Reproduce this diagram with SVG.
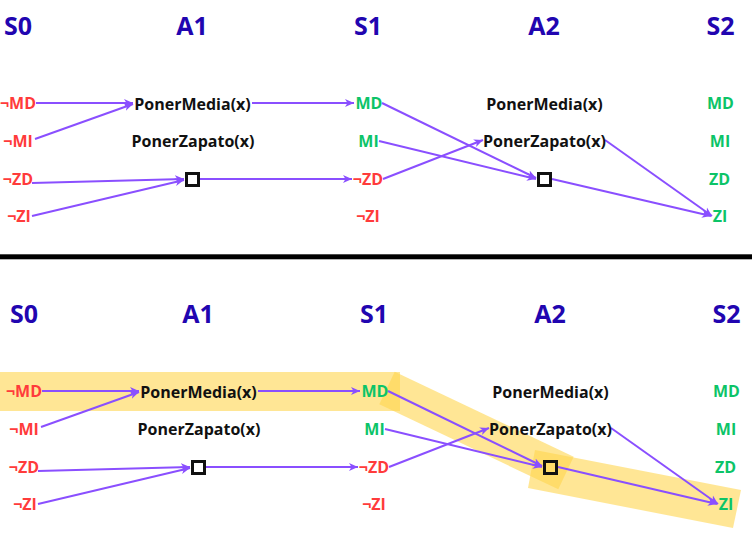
<svg xmlns="http://www.w3.org/2000/svg" width="752" height="546" viewBox="0 0 752 546">
<style>
text{font-family:"Open Sans","Liberation Sans",sans-serif;font-weight:bold;text-anchor:middle}
.h{font-size:25px;fill:#2105b0}
.neg{font-size:16px;fill:#ff3b3b}
.pos{font-size:16px;fill:#0cc468}
.act{font-size:16px;fill:#111111}
.box{fill:none;stroke:#111111;stroke-width:3}
.e{stroke:#8a4fff;stroke-width:2;fill:none;marker-end:url(#arr)}
.hl{fill:#ffd54f;opacity:0.6}
</style>
<defs>
<marker id="arr" markerUnits="userSpaceOnUse" markerWidth="10" markerHeight="10" refX="9" refY="4.5" orient="auto">
<path d="M0,0.5 L9,4.5 L0,8.5 L2.5,4.5 z" fill="#8a4fff"/>
</marker>
</defs>
<rect width="752" height="546" fill="#ffffff"/>
<g id="highlight">
<rect class="hl" x="0" y="372" width="400" height="39"/>
<polygon class="hl" points="394.7,371.7 573.7,456.7 558.3,489.3 379.3,404.3"/>
<polygon class="hl" points="535,450 741,490 733,528 528,488"/>
</g>
<rect id="separator" x="0" y="254.3" width="752" height="5" fill="#000000"/>
<g id="top">
<g id="connectors-top">
<line class="e" x1="36" y1="103" x2="133" y2="103"/>
<line class="e" x1="35" y1="139" x2="133" y2="104"/>
<line class="e" x1="32" y1="183" x2="184" y2="179"/>
<line class="e" x1="32" y1="216" x2="184" y2="180"/>
<line class="e" x1="252" y1="103" x2="354" y2="103"/>
<line class="e" x1="200" y1="179" x2="352" y2="179"/>
<line class="e" x1="382" y1="103" x2="536" y2="178"/>
<line class="e" x1="379" y1="141" x2="536" y2="179"/>
<line class="e" x1="383" y1="179" x2="483" y2="140"/>
<line class="e" x1="605" y1="140" x2="712" y2="216"/>
<line class="e" x1="552" y1="179" x2="711" y2="216"/>
</g>
<g id="t-S0"><text class="h" x="18" y="35">S0</text>
<text class="neg" x="18" y="109">¬MD</text><text class="neg" x="18" y="147">¬MI</text>
<text class="neg" x="18" y="185">¬ZD</text><text class="neg" x="19" y="222">¬ZI</text></g>
<g id="t-A1"><text class="h" x="192" y="35">A1</text>
<text class="act" x="192.5" y="110">PonerMedia(x)</text><text class="act" x="193" y="147">PonerZapato(x)</text>
<rect class="box" x="186.5" y="173.5" width="12" height="12"/></g>
<g id="t-S1"><text class="h" x="368" y="35">S1</text>
<text class="pos" x="369" y="109">MD</text><text class="pos" x="368.5" y="147">MI</text>
<text class="neg" x="368" y="185">¬ZD</text><text class="neg" x="368" y="222">¬ZI</text></g>
<g id="t-A2"><text class="h" x="544" y="35">A2</text>
<text class="act" x="544.5" y="110">PonerMedia(x)</text><text class="act" x="544.5" y="147">PonerZapato(x)</text>
<rect class="box" x="538.5" y="173.5" width="12" height="12"/></g>
<g id="t-S2"><text class="h" x="720.5" y="35">S2</text>
<text class="pos" x="720.5" y="109">MD</text><text class="pos" x="720" y="147">MI</text>
<text class="pos" x="719.5" y="185">ZD</text><text class="pos" x="720" y="222">ZI</text></g>
</g>
<g id="bottom" transform="translate(6,288)">
<g id="connectors-bottom">
<line class="e" x1="36" y1="103" x2="133" y2="103"/>
<line class="e" x1="35" y1="139" x2="133" y2="104"/>
<line class="e" x1="32" y1="183" x2="184" y2="179"/>
<line class="e" x1="32" y1="216" x2="184" y2="180"/>
<line class="e" x1="252" y1="103" x2="354" y2="103"/>
<line class="e" x1="200" y1="179" x2="352" y2="179"/>
<line class="e" x1="382" y1="103" x2="536" y2="178"/>
<line class="e" x1="379" y1="141" x2="536" y2="179"/>
<line class="e" x1="383" y1="179" x2="483" y2="140"/>
<line class="e" x1="605" y1="140" x2="712" y2="216"/>
<line class="e" x1="552" y1="179" x2="711" y2="216"/>
</g>
<g id="b-S0"><text class="h" x="18" y="35">S0</text>
<text class="neg" x="18" y="109">¬MD</text><text class="neg" x="18" y="147">¬MI</text>
<text class="neg" x="18" y="185">¬ZD</text><text class="neg" x="19" y="222">¬ZI</text></g>
<g id="b-A1"><text class="h" x="192" y="35">A1</text>
<text class="act" x="192.5" y="110">PonerMedia(x)</text><text class="act" x="193" y="147">PonerZapato(x)</text>
<rect class="box" x="186.5" y="173.5" width="12" height="12"/></g>
<g id="b-S1"><text class="h" x="368" y="35">S1</text>
<text class="pos" x="369" y="109">MD</text><text class="pos" x="368.5" y="147">MI</text>
<text class="neg" x="368" y="185">¬ZD</text><text class="neg" x="368" y="222">¬ZI</text></g>
<g id="b-A2"><text class="h" x="544" y="35">A2</text>
<text class="act" x="544.5" y="110">PonerMedia(x)</text><text class="act" x="544.5" y="147">PonerZapato(x)</text>
<rect class="box" x="538.5" y="173.5" width="12" height="12"/></g>
<g id="b-S2"><text class="h" x="720.5" y="35">S2</text>
<text class="pos" x="720.5" y="109">MD</text><text class="pos" x="720" y="147">MI</text>
<text class="pos" x="719.5" y="185">ZD</text><text class="pos" x="720" y="222">ZI</text></g>
</g>
</svg>
